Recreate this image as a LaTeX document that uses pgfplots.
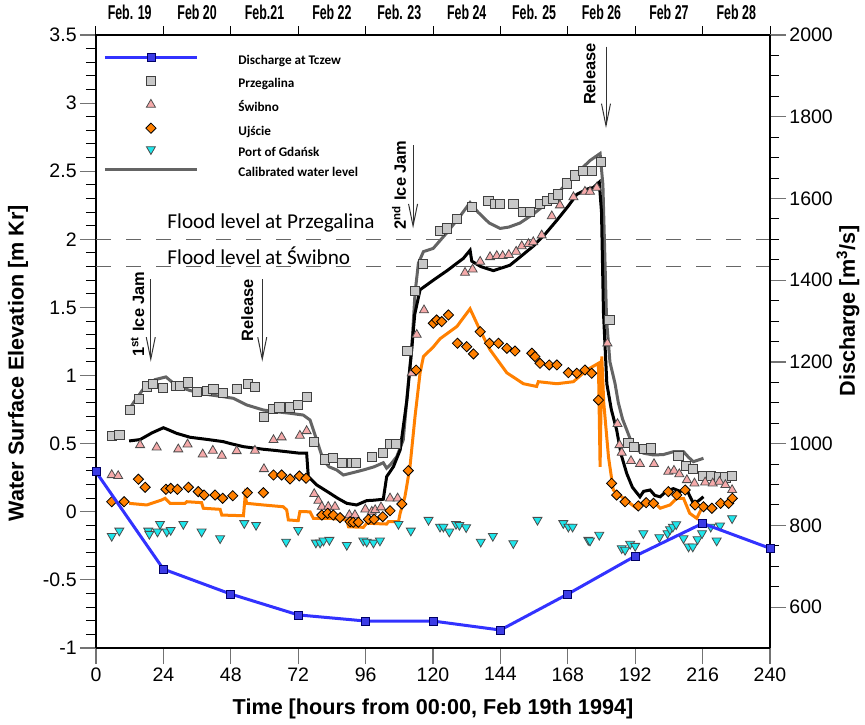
\documentclass[border=0pt]{standalone}
\usepackage{fontspec}
\setmainfont{Liberation Sans}
\newfontfamily\carlito{Carlito}
\usepackage{graphicx}
\usepackage{pgfplots}
\pgfplotsset{compat=1.18}
\usetikzlibrary{arrows.meta}

\definecolor{cgray}{RGB}{100,100,100}
\definecolor{corange}{RGB}{255,128,0}
\definecolor{cblue}{RGB}{50,50,255}
\definecolor{markblue}{RGB}{60,60,230}
\definecolor{sqfill}{RGB}{200,200,200}
\definecolor{trifill}{RGB}{245,170,170}
\definecolor{cyanfill}{RGB}{30,230,235}

\pgfplotsset{
  przst/.style={only marks, mark=square*, mark size=2.3pt, mark options={fill=sqfill, draw=black!75, line width=0.4pt}},
  swist/.style={only marks, mark=triangle*, mark size=2.6pt, mark options={fill=trifill, draw=black!70, line width=0.4pt}},
  ujst/.style={only marks, mark=square*, mark size=1.8pt, mark options={rotate=45, fill=corange, draw=black, line width=0.4pt}},
  gdast/.style={only marks, mark=triangle*, mark size=2.6pt, mark options={rotate=180, fill=cyanfill, draw=black!70, line width=0.4pt}},
  qst/.style={cblue, line width=1.5pt, mark=square*, mark size=2pt, mark options={fill=markblue, draw=black!60!blue, line width=0.4pt}},
  calst/.style={cgray, line width=1.5pt},
}
\newcommand{\fl}[1]{\scalebox{0.62}[1]{#1}}

\begin{document}
\begin{tikzpicture}
\begin{axis}[
  name=ax, scale only axis, width=337pt, height=306.5pt,
  xmin=0, xmax=240, ymin=-1, ymax=3.5,
  axis x line*=bottom, axis y line*=left,
  axis line style={-, line width=0.8pt},
  xtick={0,24,...,240}, ytick={-1,-0.5,...,3.5}, minor y tick num=4,
  tick align=outside, major tick length=8pt, minor tick length=5pt,
  major tick style={black!55, line width=0.6pt}, minor tick style={black, line width=0.5pt},
  tick label style={font=\fontsize{9.75}{10}\selectfont, inner sep=1.5pt},
  /pgf/number format/assume math mode=true,
  xlabel={Time [hours from 00:00, Feb 19th 1994]},
  ylabel={Water Surface Elevation [m Kr]},
  label style={font=\bfseries\fontsize{10.8}{12}\selectfont},
  xlabel style={at={(axis description cs:0.5,-0.0995)}, anchor=center},
  ylabel style={at={(axis description cs:-0.1157,0.465)}, anchor=center},
  legend image code/.code={\draw[mark repeat=2,mark phase=2,#1] plot coordinates {(0pt,2pt) (23pt,2pt) (46pt,2pt)};},
  legend style={draw=none, fill=none, inner sep=0pt, at={(rel axis cs:0.0104,0.970)}, anchor=north west,
    font=\carlito\bfseries\fontsize{6.6}{7}\selectfont, row sep=4.5pt, column sep=20pt,
    nodes={inner sep=0pt, text height=4.2pt, text depth=1.3pt}},
  legend cell align=left,
]
\coordinate (O) at (rel axis cs:0,0);

% flood levels
\addplot[forget plot, black!60, line width=0.6pt, dash pattern=on 7.5pt off 7.5pt] coordinates {(0,2) (240,2)};
\addplot[forget plot, black!60, line width=0.6pt, dash pattern=on 7.5pt off 7.5pt] coordinates {(0,1.8) (240,1.8)};
\node[anchor=base west, font=\carlito\fontsize{10.6}{12}\selectfont, inner sep=0pt] at (axis cs:25.3,2.08) {Flood level at Przegalina};
\node[anchor=base west, font=\carlito\fontsize{10.6}{12}\selectfont, inner sep=0pt] at (axis cs:25.3,1.815) {Flood level at Świbno};

% Przegalina
\addplot[przst, forget plot] coordinates {
(5.6,0.557) (8.3,0.564) (12.1,0.747) (15.4,0.826) (18,0.92) (20.4,0.938) (23.7,0.907) (28.5,0.924) (29.9,0.924) (32.6,0.95) (35.9,0.882) (39.6,0.889) (41.8,0.902) (45.1,0.87) (50.1,0.9) (54.1,0.936) (56.7,0.919) (59.8,0.698) (62.9,0.753) (65.3,0.767) (69.1,0.767) (72,0.784) (75.2,0.845) (77.6,0.515) (81.6,0.385) (84.3,0.393) (87.5,0.36) (91,0.36) (92.6,0.36) (98.2,0.40) (102.3,0.434) (104.7,0.498) (106.8,0.498) (110.9,1.18) (113.6,1.62) (116.3,1.82) (122.5,2.06) (124.9,2.08) (128.5,2.15) (133.8,2.24) (139.7,2.28) (142.1,2.26) (143.9,2.26) (148.6,2.26) (152.2,2.20) (154.6,2.20) (158.1,2.26) (160.5,2.28) (162.9,2.30) (164.6,2.33) (167.6,2.41) (170.6,2.47) (173.5,2.50) (176.5,2.50) (179.7,2.57) (182.8,1.41) (189.6,0.507) (191.6,0.474) (195.2,0.459) (197.5,0.466) (207.4,0.41) (210.1,0.336) (212.5,0.312) (216.1,0.263) (218.9,0.263) (222,0.253) (224.1,0.253) (226.5,0.263)
};
% Swibno
\addplot[swist, forget plot] coordinates {
(5.6,0.27) (7.9,0.263) (15.7,0.49) (21.6,0.473) (29.3,0.459) (32.6,0.495) (38,0.422) (41.6,0.449) (44.8,0.412) (50.1,0.446) (56.6,0.449) (59.8,0.314) (63.2,0.527) (66.1,0.547) (72.6,0.559) (75,0.593) (77.7,0.131) (79.2,0.082) (80.4,0.037) (82.7,0.037) (85.1,0.037) (90.2,-0.024) (92.2,-0.024) (95.9,0.018) (98.2,0.001) (99.4,0.013) (101.5,0.033) (104.7,0.099) (107.4,0.099) (112.4,1.017) (114.2,1.30) (116.8,1.48) (131.4,1.755) (134.1,1.78) (136.8,1.836) (140.3,1.87) (142.7,1.878) (144.8,1.878) (147,1.886) (149.6,1.91) (151.6,1.95) (154,1.966) (155.7,1.98) (158.7,2.03) (162.3,2.17) (165.2,2.25) (170,2.31) (174.1,2.35) (175.9,2.35) (178.3,2.38) (182.1,1.237) (185.7,0.645) (186.4,0.49) (187.2,0.434) (190.5,0.373) (193.7,0.351) (198.7,0.351) (203.8,0.295) (205.8,0.302) (207.7,0.277) (210.4,0.233) (213.1,0.209) (216.9,0.216) (219.6,0.209) (222,0.221) (224.1,0.197) (226.5,0.16)
};
% Ujscie
\addplot[ujst, forget plot] coordinates {
(5.6,0.074) (10,0.074) (15.1,0.239) (17.5,0.18) (24.9,0.165) (26.6,0.172) (29,0.165) (32.9,0.18) (36.4,0.148) (38.5,0.123) (42.4,0.123) (45.1,0.099) (48.7,0.118) (53.9,0.14) (59.6,0.14) (63.2,0.27) (66.1,0.27) (69.1,0.241) (72.4,0.263) (74.8,0.246) (80.4,-0.024) (82.5,-0.011) (84.5,-0.024) (86.9,-0.043) (90.5,-0.073) (91.6,-0.077) (93.4,-0.077) (97,-0.055) (99,-0.055) (102.1,-0.036) (104.7,0.008) (108.9,0.057) (111.2,0.302) (114,1.04) (120.1,1.384) (121.3,1.408) (123.1,1.396) (125.5,1.445) (128.7,1.237) (132,1.212) (134.4,1.159) (136.8,1.322) (140.1,1.237) (143.3,1.237) (146.3,1.20) (149.2,1.18) (155.2,1.164) (156.3,1.139) (158.1,1.09) (161.4,1.078) (164.1,1.078) (168.2,1.021) (171.2,1.017) (174.1,1.041) (176.5,1.017) (178.9,0.82) (183.6,0.209) (185.4,0.123) (188.4,0.074) (193.1,0.043) (195.9,0.067) (198.5,0.062) (203.8,0.148) (206.8,0.123) (209.8,0.16) (213.3,0.05) (216.3,0.037) (219.3,0.026) (222.4,0.062) (225.3,0.062) (226.6,0.099)
};
% Port of Gdansk
\addplot[gdast, forget plot] coordinates {
(5.6,-0.178) (8.3,-0.139) (18.6,-0.139) (19,-0.163) (21.9,-0.146) (22.8,-0.09) (25.2,-0.146) (26.6,-0.134) (31.1,-0.09) (37.6,-0.146) (44.2,-0.195) (52.8,-0.084) (57,-0.097) (67.7,-0.22) (72,-0.134) (78.3,-0.227) (79.8,-0.227) (81,-0.212) (83.1,-0.207) (89.3,-0.244) (95.2,-0.212) (96.4,-0.22) (98.8,-0.227) (101.1,-0.212) (107.7,-0.09) (112.1,-0.139) (118.4,-0.06) (122.5,-0.11) (123.7,-0.11) (125.8,-0.146) (128.2,-0.09) (129.4,-0.097) (131.8,-0.114) (137,-0.22) (141.3,-0.178) (148.6,-0.231) (157.2,-0.06) (166.4,-0.084) (168.2,-0.11) (169.7,-0.11) (175.3,-0.207) (175.9,-0.212) (179.2,-0.17) (187.2,-0.268) (188.4,-0.28) (190.2,-0.236) (192,-0.251) (194.9,-0.158) (200.6,-0.187) (203.5,-0.158) (204.4,-0.129) (205.4,-0.11) (206.6,-0.092) (209.2,-0.195) (211,-0.256) (212.5,-0.256) (214.2,-0.202) (215.8,-0.158) (218.9,-0.11) (221,-0.212) (222.2,-0.102) (226.5,-0.048)
};
% calibrated Przegalina (gray)
\addplot[calst, forget plot] coordinates {
(11.8,0.753) (14,0.82) (17.5,0.92) (21,0.97) (24.9,0.99) (28.7,0.924) (33.5,0.89) (40,0.86) (45.3,0.845) (48.9,0.833) (53.7,0.784) (59.6,0.747) (64,0.735) (69.2,0.723) (73.8,0.71) (76.2,0.674) (78.6,0.527) (80.9,0.38) (83,0.33) (85.7,0.307) (88.1,0.27) (92,0.29) (95.2,0.307) (99,0.33) (102.3,0.36) (103.5,0.32) (105,0.35) (107.1,0.405) (109.4,0.527) (111.2,0.943) (112.4,1.19) (113.6,1.606) (114.8,1.825) (116.6,1.91) (120.1,1.934) (125,2.05) (130,2.18) (133.2,2.27) (136,2.2) (140,2.12) (143.9,2.08) (147,2.09) (151,2.12) (156,2.19) (160.5,2.265) (164,2.33) (167.6,2.41) (172.4,2.51) (176,2.58) (179.5,2.63) (180.5,2.4) (181.8,1.41) (183,1.1) (184.8,0.943) (186,0.8) (187.5,0.68) (189,0.6) (190.5,0.52) (192.5,0.454) (195,0.43) (198.5,0.417) (202,0.42) (205.6,0.441) (209.2,0.441) (211,0.4) (212.7,0.368) (214.5,0.38) (216.3,0.393)
};
% calibrated Swibno (black)
\addplot[black, line width=1.5pt, forget plot] coordinates {
(11.8,0.52) (15.7,0.53) (20,0.58) (24,0.617) (26,0.6) (28.7,0.576) (33.5,0.547) (40,0.53) (45.3,0.515) (48,0.5) (52.5,0.478) (59.6,0.459) (64,0.45) (67.9,0.441) (72.6,0.43) (75,0.43) (75.6,0.258) (78.6,0.197) (83.3,0.136) (86,0.1) (89.3,0.062) (92.8,0.05) (96.4,0.082) (99,0.085) (102.3,0.092) (103.5,0.258) (105.9,0.331) (108.3,0.454) (110.7,0.82) (112.4,1.19) (113.5,1.45) (115.4,1.63) (120.1,1.70) (125,1.77) (130.8,1.86) (133.2,1.92) (133.8,1.84) (137,1.8) (141.5,1.77) (147.4,1.81) (151,1.87) (155.7,1.95) (160,2.04) (164.1,2.14) (168,2.24) (171.2,2.33) (175,2.37) (177.1,2.38) (179.2,2.42) (180,2.2) (180.7,1.46) (181.9,0.94) (183.5,0.75) (185.4,0.6) (187,0.42) (189,0.28) (191,0.18) (193.7,0.11) (195,0.15) (197.3,0.16) (199,0.12) (200.9,0.11) (203,0.15) (205.6,0.17) (208,0.15) (210.4,0.16) (212.7,0.062) (214.5,0.08) (216.3,0.11)
};
% calibrated Ujscie (orange)
\addplot[corange, line width=1.5pt, forget plot] coordinates {
(11.8,0.062) (18.1,0.05) (23.4,0.087) (24.6,0.099) (26.4,0.062) (31.7,0.062) (32.3,0.074) (37.6,0.067) (38.2,0.026) (44.2,0.018) (44.8,-0.024) (52.5,-0.029) (53.1,0.111) (53.7,0.062) (59.6,0.05) (66.7,0.037) (67.9,0.013) (68.5,-0.06) (72,-0.065) (72.6,0.001) (76.2,0) (77.4,-0.048) (83.3,-0.048) (89.3,-0.06) (89.9,-0.11) (95.2,-0.114) (96.4,-0.084) (103.5,-0.09) (104.1,-0.073) (107.7,-0.073) (108.3,-0.011) (110,0.11) (111.8,0.33) (113.6,0.70) (115.4,1.02) (116.6,1.14) (120.1,1.21) (122.5,1.27) (128.5,1.36) (133.2,1.49) (136.8,1.33) (140.3,1.19) (146.3,1.02) (152.2,0.94) (156.9,0.92) (157.5,0.955) (164.1,0.94) (170,0.955) (174.7,1.04) (178.9,1.09) (179.5,0.33) (180.1,1.14) (180.8,0.8) (182.5,0.4) (184.2,0.16) (187.8,0.099) (192.5,0.026) (194.9,0.062) (198.5,0.074) (200.9,0.026) (204.4,0.05) (206.8,0.099) (209.2,0.099) (211.4,-0.011) (213.9,-0.048) (216.3,0.05)
};

% annotations
\draw[black!80, line width=0.5pt, -{Straight Barb[length=11pt,width=4.5pt]}] (axis cs:19.5,1.707) -- (axis cs:19.5,1.102);
\node[rotate=90, font=\bfseries\fontsize{8.2}{9}\selectfont] at (axis cs:14.8,1.452) {1\textsuperscript{st} Ice Jam};
\draw[black!80, line width=0.5pt, -{Straight Barb[length=11pt,width=4.5pt]}] (axis cs:59.2,1.707) -- (axis cs:59.2,1.102);
\node[rotate=90, font=\bfseries\fontsize{8.2}{9}\selectfont] at (axis cs:53.9,1.48) {Release};
\draw[black!80, line width=0.5pt, -{Straight Barb[length=11pt,width=4.5pt]}] (axis cs:112.9,2.69) -- (axis cs:112.9,2.08);
\node[rotate=90, font=\bfseries\fontsize{8.2}{9}\selectfont] at (axis cs:107.9,2.40) {2\textsuperscript{nd} Ice Jam};
\draw[black!80, line width=0.5pt, -{Straight Barb[length=11pt,width=4.5pt]}] (axis cs:181.6,3.415) -- (axis cs:181.6,2.816);
\node[rotate=90, font=\bfseries\fontsize{8.2}{9}\selectfont] at (axis cs:175.7,3.214) {Release};

% legend
\addlegendimage{qst}
\addlegendimage{przst}
\addlegendimage{swist}
\addlegendimage{ujst}
\addlegendimage{gdast}
\addlegendimage{calst}
\legend{Discharge at Tczew, Przegalina, Świbno, Ujście, Port of Gdańsk, Calibrated water level}
\end{axis}

\begin{axis}[
  scale only axis, width=337pt, height=306.5pt,
  xmin=0, xmax=240, ymin=500, ymax=2000,
  axis x line*=top, axis y line*=right,
  axis line style={-, line width=0.8pt},
  xtick={12,36,...,228},
  xticklabels={\fl{Feb. 19},\fl{Feb 20},\fl{Feb.21},\fl{Feb 22},\fl{Feb. 23},\fl{Feb 24},\fl{Feb. 25},\fl{Feb 26},\fl{Feb 27},\fl{Feb 28}},
  xticklabel style={font=\bfseries\fontsize{10}{11}\selectfont, inner sep=1pt, yshift=-1.5pt},
  major x tick style={draw=none},
  minor xtick={0,24,...,240},
  minor x tick style={black, line width=0.5pt},
  ytick={600,800,...,2000}, minor y tick num=3,
  tick align=outside, major tick length=8pt, minor tick length=4.5pt,
  major y tick style={black!55, line width=0.6pt}, minor y tick style={black, line width=0.5pt},
  yticklabel style={font=\fontsize{9.75}{10}\selectfont, inner sep=1.5pt},
  /pgf/number format/assume math mode=true,
  /pgf/number format/1000 sep={},
  ylabel={Discharge [m\textsuperscript{3}/s]},
  ylabel style={font=\bfseries\fontsize{10.8}{12}\selectfont, at={(axis description cs:1.1157,0.55)}, anchor=center},
]
\addplot[qst] coordinates {(0,931) (24,693) (48,632) (72,581) (96,566) (120,566) (144,544) (168,632) (192,725) (216,805) (240,744)};
\end{axis}
\pgfresetboundingbox
\path[use as bounding box] (O) ++(-48pt,-38pt) rectangle ++(432.5pt,362pt);
\end{tikzpicture}
\end{document}
